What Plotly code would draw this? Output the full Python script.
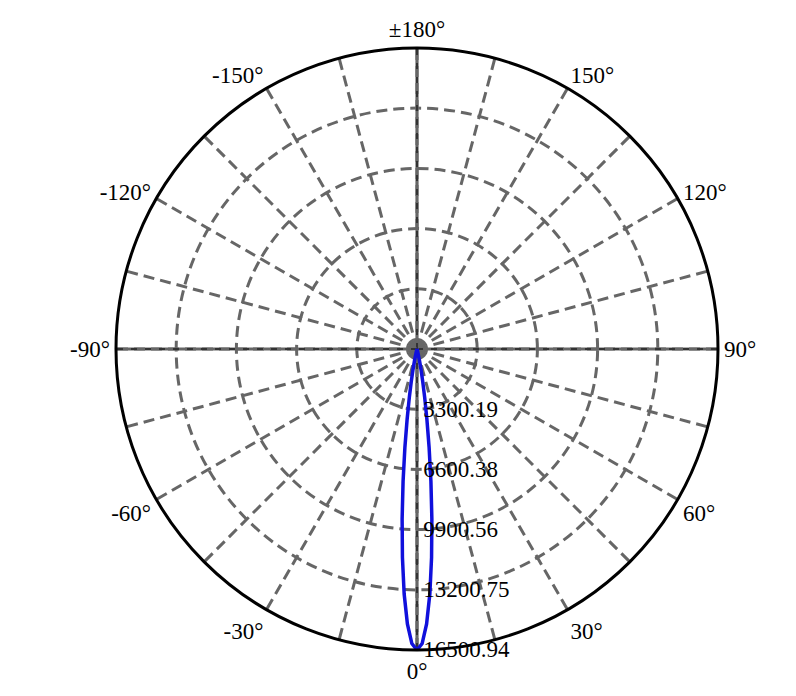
import plotly.graph_objects as go

# angles (deg) and luminous intensity
angles = [-90, -60, -40, -30, -25, -20, -16, -14, -12, -11, -10, -9, -8, -7, -6, -5, -4, -3, -2, -1,
          0, 1, 2, 3, 4, 5, 6, 7, 8, 9, 10, 11, 12, 14, 16, 20, 25, 30, 40, 60, 90]
intensity = [0, 0, 0, 0, 5, 15, 70, 230, 680, 1150, 1800, 2700, 3900, 5450, 7300, 9350, 11450, 13450, 15080, 16150,
             16500.94, 16150, 15080, 13450, 11450, 9350, 7300, 5450, 3900, 2700, 1800, 1150, 680, 230, 70, 15, 5, 0, 0, 0, 0]

r_ticks = [3300.19, 6600.38, 9900.56, 13200.75, 16500.94]
r_labels = ["3300.19", "6600.38", "9900.56", "13200.75", "16500.94"]
theta_ticks = list(range(0, 360, 15))
theta_labels = {0: "0°", 30: "30°", 60: "60°", 90: "90°", 120: "120°", 150: "150°", 180: "±180°",
                210: "-150°", 240: "-120°", 270: "-90°", 300: "-60°", 330: "-30°"}
main_axes = [0, 90, 180, 270]

grid_col = "#666666"
fig = go.Figure()

# the four main axes look solid grey with a thin black dash on top
for t in main_axes:
    fig.add_trace(go.Scatterpolar(r=[0, r_ticks[-1]], theta=[t, t], mode="lines",
                                  line=dict(color=grid_col, width=3.2),
                                  showlegend=False, hoverinfo="skip"))
    fig.add_trace(go.Scatterpolar(r=[0, r_ticks[-1]], theta=[t, t], mode="lines",
                                  line=dict(color="black", width=1, dash="6px,8px"),
                                  showlegend=False, hoverinfo="skip"))

fig.add_trace(go.Scatterpolar(
    r=intensity, theta=angles, mode="lines",
    line=dict(color="#1010dc", width=3.5),
    showlegend=False, hoverinfo="skip",
))

fig.update_layout(
    width=796, height=696,
    margin=dict(l=108, r=86, t=40, b=54),
    paper_bgcolor="white",
    font=dict(family="Liberation Serif, Times New Roman, serif", size=23, color="black"),
    polar=dict(
        bgcolor="white",
        radialaxis=dict(
            range=[0, 16500.94], tickvals=r_ticks, ticktext=[" " + s for s in r_labels],
            angle=-90, tickangle=-90, side="counterclockwise", showline=False, ticks="",
            gridcolor=grid_col, griddash="11px,6px", gridwidth=3.2,
            tickfont=dict(size=23, color="black"),
        ),
        angularaxis=dict(
            rotation=-90, direction="counterclockwise",
            tickvals=theta_ticks,
            ticktext=[theta_labels.get(t, "") for t in theta_ticks],
            showline=True, linecolor="black", linewidth=3, ticks="",
            gridcolor=grid_col, griddash="11px,6px", gridwidth=3.2,
            tickfont=dict(size=23, color="black"),
        ),
    ),
)

fig.write_html("out.html")
